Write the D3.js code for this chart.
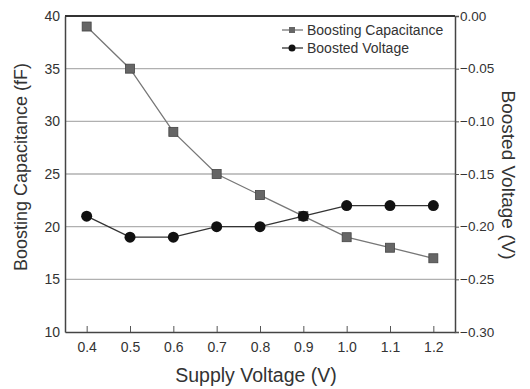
<!DOCTYPE html>
<html>
<head>
<meta charset="utf-8">
<script src="https://cdn.jsdelivr.net/npm/d3@7"></script>
<style>
  body { margin: 0; background: #fff; }
  svg { font-family: "Liberation Sans", Arial, sans-serif; }
</style>
</head>
<body>
<svg id="chart" width="530" height="389"></svg>
<script>
// Data
const supplyVoltage = [0.4, 0.5, 0.6, 0.7, 0.8, 0.9, 1.0, 1.1, 1.2];
const capacitance = [39, 35, 29, 25, 23, 21, 19, 18, 17];
const boostedVoltage = [-0.19, -0.21, -0.21, -0.20, -0.20, -0.19, -0.18, -0.18, -0.18];
const xTicks = [0.4, 0.5, 0.6, 0.7, 0.8, 0.9, 1.0, 1.1, 1.2];
const leftTicks = [10, 15, 20, 25, 30, 35, 40];
const rightTicks = [0, -0.05, -0.10, -0.15, -0.20, -0.25, -0.30];
const legendLabels = ["Boosting Capacitance", "Boosted Voltage"];

const margin = { top: 16, right: 75, bottom: 57, left: 65 };
const totalW = 530, totalH = 389;
const width = totalW - margin.left - margin.right;
const height = totalH - margin.top - margin.bottom;

const svg = d3.select("#chart")
  .append("g")
  .attr("transform", `translate(${margin.left},${margin.top})`);

// Scales
const x = d3.scaleLinear().domain([0.35, 1.25]).range([0, width]);
const yL = d3.scaleLinear().domain([10, 40]).range([height, 0]);
const yR = d3.scaleLinear().domain([-0.30, 0]).range([height, 0]);

// Grid lines
svg.append("g")
  .selectAll("line")
  .data(leftTicks.filter(d => d > 10 && d < 40))
  .enter().append("line")
  .attr("x1", 0).attr("x2", width)
  .attr("y1", d => yL(d)).attr("y2", d => yL(d))
  .attr("stroke", "#b0b0b0")
  .attr("stroke-width", 1.3);

// Axes
const xAxis = svg.append("g")
  .attr("transform", `translate(0,${height})`)
  .call(d3.axisBottom(x).tickValues(xTicks).tickSizeInner(-6).tickSizeOuter(0).tickPadding(10));

const leftAxis = svg.append("g")
  .call(d3.axisLeft(yL).tickValues(leftTicks).tickSize(0).tickPadding(5));

const rightAxis = svg.append("g")
  .attr("transform", `translate(${width},0)`)
  .call(d3.axisRight(yR).tickValues(rightTicks).tickSize(4).tickPadding(1));

[xAxis, leftAxis, rightAxis].forEach(a => {
  a.select(".domain").attr("stroke", "#444").attr("stroke-width", 1.5);
  a.selectAll(".tick line").attr("stroke", "#555");
  a.selectAll("text").attr("font-size", 14).attr("fill", "#333");
});
rightAxis.selectAll("text").attr("font-size", 13.5);
xAxis.selectAll(".tick text").text(d => d3.format(".1f")(d));
rightAxis.selectAll(".tick text").text(d => d3.format(".2f")(d));

// Top border
svg.append("line")
  .attr("x1", 0).attr("x2", width).attr("y1", 0).attr("y2", 0)
  .attr("stroke", "#333").attr("stroke-width", 2);

// Capacitance series
const lineCap = d3.line()
  .x((d, i) => x(supplyVoltage[i]))
  .y(d => yL(d));

svg.append("path")
  .datum(capacitance)
  .attr("fill", "none")
  .attr("stroke", "#777")
  .attr("stroke-width", 1.3)
  .attr("d", lineCap);

// Boosted voltage series
const lineVolt = d3.line()
  .x((d, i) => x(supplyVoltage[i]))
  .y(d => yR(d));

svg.append("path")
  .datum(boostedVoltage)
  .attr("fill", "none")
  .attr("stroke", "#333")
  .attr("stroke-width", 1.3)
  .attr("d", lineVolt);

svg.selectAll(".cap")
  .data(capacitance)
  .enter().append("rect")
  .attr("class", "cap")
  .attr("x", (d, i) => x(supplyVoltage[i]) - 4.5)
  .attr("y", d => yL(d) - 4.5)
  .attr("width", 9).attr("height", 9)
  .attr("fill", "#666")
  .attr("stroke", "#444")
  .attr("stroke-width", 0.8);

svg.selectAll(".volt")
  .data(boostedVoltage)
  .enter().append("circle")
  .attr("class", "volt")
  .attr("cx", (d, i) => x(supplyVoltage[i]))
  .attr("cy", d => yR(d))
  .attr("r", 5.5)
  .attr("fill", "#111");

// Legend
const legend = svg.append("g").attr("transform", `translate(217,14)`);
legendLabels.forEach((label, i) => {
  const g = legend.append("g").attr("transform", `translate(0,${i * 18})`);
  g.append("line").attr("x1", 0).attr("x2", 21).attr("y1", 0).attr("y2", 0)
    .attr("stroke", i === 0 ? "#777" : "#333").attr("stroke-width", 1.3);
  if (i === 0) {
    g.append("rect").attr("x", 7).attr("y", -3).attr("width", 6).attr("height", 6).attr("fill", "#666");
  } else {
    g.append("circle").attr("cx", 10).attr("cy", 0).attr("r", 3.5).attr("fill", "#111");
  }
  g.append("text").attr("x", 25).attr("y", 5)
    .attr("font-size", 14).attr("fill", "#333")
    .text(label);
});

// Axis titles
svg.append("text")
  .attr("x", width / 2 - 4).attr("y", height + 50)
  .attr("text-anchor", "middle")
  .attr("font-size", 19.5).attr("fill", "#333")
  .text("Supply Voltage (V)");

svg.append("text")
  .attr("transform", `translate(-38,${height / 2 - 7}) rotate(-90)`)
  .attr("text-anchor", "middle")
  .attr("font-size", 18).attr("fill", "#333")
  .text("Boosting Capacitance (fF)");

svg.append("text")
  .attr("transform", `translate(${width + 47},${height / 2 + 1}) rotate(90)`)
  .attr("text-anchor", "middle")
  .attr("font-size", 19).attr("fill", "#333")
  .text("Boosted Voltage (V)");
</script>
</body>
</html>
